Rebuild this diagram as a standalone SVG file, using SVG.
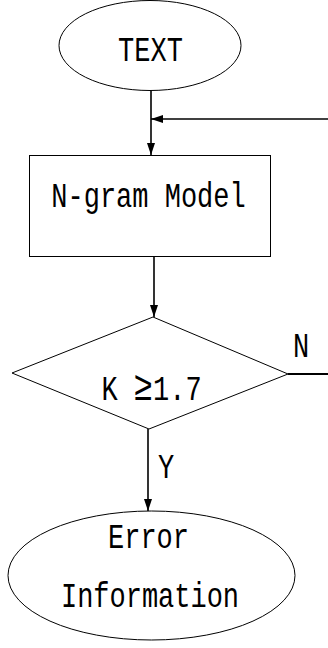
<svg xmlns="http://www.w3.org/2000/svg" width="328" height="648" viewBox="0 0 328 648">
<style>
.shape{fill:#fff;stroke:#000;stroke-width:1}
.conn{fill:none;stroke:#000;stroke-width:1.6}
.t{font-family:"Liberation Mono","DejaVu Sans Mono",monospace;font-size:27px;fill:#000;text-anchor:middle}
</style>
<defs>
<marker id="arr" viewBox="0 0 12 8" refX="12" refY="4" markerWidth="12" markerHeight="8" markerUnits="userSpaceOnUse" orient="auto">
<path d="M0,0 L12,4 L0,8 Z" fill="#000"/>
</marker>
</defs>
<g id="connectors">
<line class="conn" x1="151" y1="91" x2="151" y2="155" marker-end="url(#arr)"/>
<line class="conn" x1="328" y1="119" x2="151" y2="119" marker-end="url(#arr)"/>
<line class="conn" x1="154" y1="257" x2="154" y2="317" marker-end="url(#arr)"/>
<line class="conn" x1="288" y1="374" x2="328" y2="374" style="stroke-width:2.2"/>
<line class="conn" x1="148" y1="429" x2="148" y2="511" marker-end="url(#arr)"/>
<text class="t" transform="translate(301,357) scale(1,1.3)">N</text>
<text class="t" transform="translate(166,478) scale(1,1.3)">Y</text>
</g>
<g id="text-node">
<ellipse class="shape" cx="150" cy="45.5" rx="91" ry="45"/>
<text class="t" transform="translate(150.5,61) scale(1,1.3)">TEXT</text>
</g>
<g id="ngram-node">
<rect class="shape" x="29.5" y="155.5" width="241" height="101"/>
<text class="t" transform="translate(148.5,207) scale(1,1.3)">N-gram Model</text>
</g>
<g id="decision-node">
<polygon class="shape" points="153,317 288,374 149,429 12,373"/>
<text class="t" transform="translate(151.5,400) scale(1,1.3)">K <tspan style="font-size:32px">≥</tspan>1.7</text>
</g>
<g id="error-node">
<ellipse class="shape" cx="151.5" cy="575.5" rx="143.5" ry="64.5"/>
<text class="t" transform="translate(148.5,548) scale(1,1.3)">Error</text>
<text class="t" transform="translate(150,607) scale(1,1.3)">Information</text>
</g>
</svg>
